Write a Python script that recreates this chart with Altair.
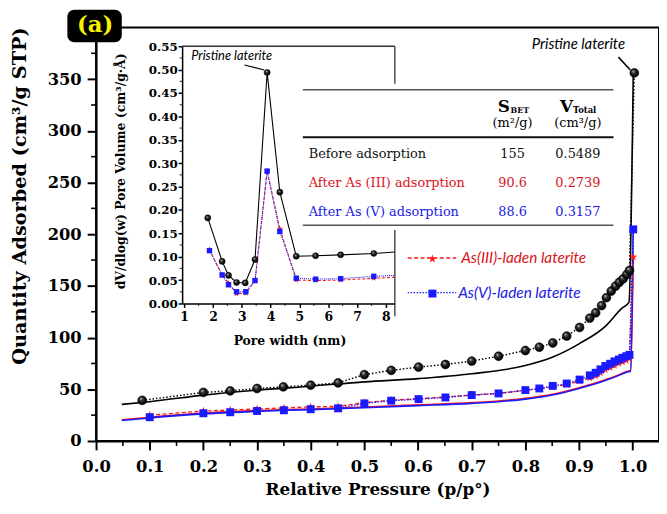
import altair as alt
import pandas as pd

# ---------------- main isotherm data (P/P0, quantity adsorbed) ----------------
prist_x = [0.086, 0.200, 0.250, 0.300, 0.349, 0.400, 0.451, 0.500, 0.550, 0.601, 0.651, 0.700,
           0.750, 0.800, 0.826, 0.851, 0.877, 0.901, 0.920, 0.931, 0.942, 0.951, 0.960, 0.968,
           0.975, 0.982, 0.989, 0.994, 1.003]
prist_y = [39.3, 47.0, 48.5, 50.8, 52.4, 54.0, 56.2, 64.2, 68.3, 71.5, 74.0, 77.3,
           82.0, 87.5, 90.7, 94.8, 101.5, 109.8, 118.8, 124.0, 131.0, 138.6, 145.0, 149.7,
           153.5, 156.8, 161.0, 165.0, 356.0]
laden_x = [0.100, 0.200, 0.250, 0.300, 0.350, 0.400, 0.451, 0.500, 0.550, 0.601, 0.651, 0.700,
           0.750, 0.800, 0.826, 0.851, 0.877, 0.901, 0.920, 0.931, 0.940, 0.949, 0.958, 0.966,
           0.974, 0.981, 0.988, 0.994, 1.001]
as5_y = [23.0, 26.8, 27.8, 29.0, 29.7, 30.7, 31.6, 36.4, 39.0, 40.5, 42.1, 44.4,
         46.0, 49.2, 50.8, 53.3, 55.6, 59.4, 63.5, 66.0, 69.3, 72.5, 74.7, 77.0,
         78.8, 80.5, 82.0, 83.3, 204.7]
as3_y = [25.0, 29.0, 30.0, 31.0, 32.0, 33.0, 33.5, 37.0, 39.5, 41.0, 42.5, 44.5,
         46.0, 49.0, 50.5, 52.5, 54.5, 58.0, 61.0, 63.0, 66.0, 69.0, 71.0, 73.0,
         75.0, 76.5, 78.0, 80.0, 178.0]

# solid branches
pfit_x = [0.048, 0.100, 0.200, 0.300, 0.400, 0.500, 0.600, 0.700, 0.800, 0.850, 0.900, 0.950, 0.980, 0.993, 1.001]
pfit_y = [35.4, 38.0, 44.4, 49.2, 53.0, 57.2, 60.3, 65.0, 73.0, 81.0, 94.0, 111.4, 128.5, 134.0, 356.0]
lfit_x = [0.048, 0.100, 0.200, 0.300, 0.400, 0.500, 0.600, 0.700, 0.800, 0.850, 0.900, 0.950, 0.970, 0.990, 0.996, 1.001]
as5fit_y = [19.8, 22.3, 26.2, 28.7, 30.3, 32.2, 34.2, 36.4, 40.5, 44.4, 50.8, 58.7, 62.5, 66.7, 67.5, 204.7]
as3fit_y = [20.5, 23.0, 27.0, 29.4, 31.0, 32.9, 34.9, 37.1, 41.2, 45.1, 51.5, 59.4, 63.2, 67.4, 68.2, 178.0]

main_xticks = [round(i * 0.1, 1) for i in range(11)]
main_xminor = [round(0.05 + i * 0.1, 2) for i in range(10)]
main_yticks = [i * 50 for i in range(8)]
main_yminor = [25 + i * 50 for i in range(8)]

# ---------------- inset: pore size distribution ----------------
pw_prist_x = [1.82, 2.32, 2.54, 2.82, 3.12, 3.46, 3.88, 4.32, 4.89, 5.56, 6.43, 7.58]
pw_prist_y = [0.183, 0.090, 0.060, 0.045, 0.044, 0.094, 0.494, 0.238, 0.101, 0.102, 0.104, 0.107]
pw_laden_x = [1.88, 2.32, 2.54, 2.82, 3.14, 3.46, 3.88, 4.32, 4.89, 5.56, 6.43, 7.58]
pw_as3_y = [0.115, 0.060, 0.044, 0.021, 0.022, 0.048, 0.283, 0.160, 0.050, 0.049, 0.050, 0.054]
pw_as5_y = [0.113, 0.061, 0.040, 0.025, 0.025, 0.049, 0.283, 0.154, 0.054, 0.052, 0.053, 0.058]
pw_edge_x = 8.31
pw_edge = {"prist": 0.110, "as3": 0.056, "as5": 0.060}

in_xticks = [1, 2, 3, 4, 5, 6, 7, 8]
in_xminor = [1.5, 2.5, 3.5, 4.5, 5.5, 6.5, 7.5]
in_yticks = [round(i * 0.05, 2) for i in range(12)]
in_yminor = [round(0.025 + i * 0.05, 3) for i in range(11)]

# ---------------- table ----------------
tbl_rows = ["Before adsorption", "After As (III) adsorption", "After As (V) adsorption"]
tbl_sbet = ["155", "90.6", "88.6"]
tbl_vtot = ["0.5489", "0.2739", "0.3157"]

RED = "#ff1a1a"
BLUE = "#1a1aff"
RED_T = "#d8141c"
BLUE_T = "#2020e0"
row_colors = ["#111111", RED_T, BLUE_T]

SERIF = "DejaVu Serif"
HAND = "Lato"
STAR = ("M0,-1L0.235,-0.324L0.951,-0.309L0.38,0.124L0.588,0.809L0,0.4L-0.588,0.809"
        "L-0.38,0.124L-0.951,-0.309L-0.235,-0.324Z")

W, H = 569, 418
OX, OY = 97, 25
ONE = pd.DataFrame({"k": [0]})

sphere = alt.RadialGradient(
    gradient="radial",
    stops=[alt.GradientStop(color="#d8d8d8", offset=0),
           alt.GradientStop(color="#3a3a3a", offset=0.3),
           alt.GradientStop(color="#080808", offset=0.7),
           alt.GradientStop(color="#000000", offset=1)],
    x1=0.35, y1=0.3, r1=0.0, x2=0.5, y2=0.5, r2=0.6)


def df(x, y):
    return pd.DataFrame({"x": x, "y": y})


def label(text, px, py, size, color="black", weight="normal", align="left",
          font=SERIF, style="normal", baseline="alphabetic"):
    return alt.Chart(ONE).mark_text(
        text=text, font=font, fontSize=size, fontWeight=weight, fontStyle=style,
        color=color, align=align, baseline=baseline
    ).encode(x=alt.value(px - OX), y=alt.value(py - OY))


def seg(px1, py1, px2, py2, color, width, dash=None):
    kw = {"strokeDash": dash} if dash else {}
    return alt.Chart(ONE).mark_rule(color=color, strokeWidth=width, **kw).encode(
        x=alt.value(px1 - OX), y=alt.value(py1 - OY),
        x2=alt.value(px2 - OX), y2=alt.value(py2 - OY))


def dot(px, py, shape, size, color):
    return alt.Chart(ONE).mark_point(shape=shape, size=size, filled=True, color=color,
                                     opacity=1).encode(
        x=alt.value(px - OX), y=alt.value(py - OY))


# ---------------- main scales / axes ----------------
xs = alt.Scale(domain=[0, 1.049], nice=False, zero=False)
ys = alt.Scale(domain=[0, 400], nice=False, zero=False)
ax_x = alt.Axis(values=main_xticks, format=".1f", title="Relative Pressure (p/p°)",
                tickSize=9, tickWidth=2, domainWidth=2, labelFontSize=16.5,
                labelBaseline="middle", labelPadding=17, labelFlush=False,
                titleFontSize=17, titleX=284.5, titleY=54, titleBaseline="alphabetic",
                grid=False)
ax_y = alt.Axis(values=main_yticks, title="Quantity Adsorbed (cm³/g STP)",
                tickSize=9, tickWidth=2, domainWidth=2, labelFontSize=16.5,
                labelPadding=6, titleFontSize=19.5, titleX=-77, titleY=170,
                titleAngle=270, titleBaseline="middle", titleAlign="center", grid=False)


def MX(f="x"):
    return alt.X(f + ":Q", scale=xs, axis=ax_x)


def MY(f="y"):
    return alt.Y(f + ":Q", scale=ys, axis=ax_y)


main_layers = [
    alt.Chart(df(pfit_x, pfit_y)).mark_line(color="black", strokeWidth=1.6, interpolate="monotone").encode(x=MX(), y=MY()),
    alt.Chart(df(lfit_x, as3fit_y)).mark_line(color=RED, strokeWidth=1.6, interpolate="monotone").encode(x=MX(), y=MY()),
    alt.Chart(df(lfit_x, as5fit_y)).mark_line(color=BLUE, strokeWidth=1.6, interpolate="monotone").encode(x=MX(), y=MY()),
    alt.Chart(df(laden_x, as3_y)).mark_line(color=RED, strokeWidth=1.4, strokeDash=[4, 2.5]).encode(x=MX(), y=MY()),
    alt.Chart(df(laden_x, as5_y)).mark_line(color=BLUE, strokeWidth=1.4, strokeDash=[1.5, 1.5]).encode(x=MX(), y=MY()),
    alt.Chart(df(prist_x, prist_y)).mark_line(color="black", strokeWidth=1.5, strokeDash=[1.5, 2]).encode(x=MX(), y=MY()),
    alt.Chart(df(laden_x, as3_y)).mark_point(shape=STAR, size=70, filled=True, color=RED, opacity=1).encode(x=MX(), y=MY()),
    alt.Chart(df(laden_x, as5_y)).mark_point(shape="square", size=64, filled=True, color=BLUE, opacity=1).encode(x=MX(), y=MY()),
    alt.Chart(df(prist_x, prist_y)).mark_point(shape="circle", size=80, filled=True, fill=sphere,
                                               stroke="black", strokeWidth=0.6, opacity=1).encode(x=MX(), y=MY()),
    # minor ticks
    alt.Chart(pd.DataFrame({"x": main_xminor})).mark_rule(color="black", strokeWidth=1.6).encode(
        x=MX(), y=alt.value(H), y2=alt.value(H + 5)),
    alt.Chart(pd.DataFrame({"y": main_yminor})).mark_rule(color="black", strokeWidth=1.6).encode(
        y=MY(), x=alt.value(0), x2=alt.value(-5)),
]

# annotations, legend, table, badge (layout in page pixels)
deco = [
    label("Pristine laterite", 584.5, 47, 15, style="italic", font=HAND, align="center"),
    seg(625, 55, 637, 68, "black", 1.5),
    seg(412, 258, 461, 258, RED, 1.4, [4, 2.5]),
    dot(437, 259, STAR, 80, RED),
    label("As(III)-laden laterite", 466, 263.5, 15.5, color=RED_T, style="italic", font=HAND),
    seg(412, 293, 461, 293, BLUE, 1.4, [1.5, 1.5]),
    dot(437, 294, "square", 64, BLUE),
    label("As(V)-laden laterite", 463, 298.5, 15.5, color=BLUE_T, style="italic", font=HAND),
    seg(306, 88, 620, 88, "#555555", 1.5),
    seg(306, 136, 620, 136, "#111111", 2.2),
    seg(306, 225, 620, 225, "#555555", 1.5),
    label("S", 503, 110, 17, weight="bold"),
    label("BET", 516, 111, 8, weight="bold"),
    label("(m²/g)", 518, 126, 13, align="center"),
    label("V", 566, 110, 17, weight="bold"),
    label("Total", 579, 111, 8.5, weight="bold"),
    label("(cm³/g)", 584, 126, 13, align="center"),
    alt.Chart(ONE).mark_rect(color="black", cornerRadius=7).encode(
        x=alt.value(68 - OX), x2=alt.value(123 - OX), y=alt.value(7 - OY), y2=alt.value(40 - OY)),
    label("(a)", 96, 23, 23, color="#f5f500", weight="bold", align="center", baseline="middle"),
]
row_base = [157, 186.5, 215.5]
for i, name in enumerate(tbl_rows):
    deco.append(label(name, 312, row_base[i], 13, color=row_colors[i]))
    deco.append(label(tbl_sbet[i], 518, row_base[i], 13, color=row_colors[i], align="center"))
    deco.append(label(tbl_vtot[i], 584, row_base[i], 13, color=row_colors[i], align="center"))

main = alt.layer(*(main_layers + deco))

# ---------------- inset scales / axes ----------------
IX0, IX1 = 0.931, 8.31
xsi = alt.Scale(domain=[IX0, IX1], range=[87, 302], nice=False, zero=False)
ysi = alt.Scale(domain=[0, 0.55], range=[279, 19], nice=False, zero=False)
ax_ix = alt.Axis(orient="bottom", offset=-139, values=in_xticks, format="d", tickSize=4,
                 tickWidth=1.5, domainWidth=1.5, labelFontSize=12.5, labelBaseline="middle",
                 labelPadding=9, labelFlush=False, title="Pore width (nm)", titleFontSize=12.5,
                 titleX=195.5, titleY=41, titleBaseline="alphabetic", grid=False)
ax_iy = alt.Axis(orient="left", offset=-87, values=in_yticks, format=".2f", tickSize=4,
                 tickWidth=1.5, domainWidth=1.5, labelFontSize=12, labelPadding=1,
                 labelFlush=False, title="dV/dlog(w) Pore Volume (cm³/g·Å)", titleFontSize=12.5,
                 titleX=-62, titleY=145, titleAngle=270, titleBaseline="middle",
                 titleAlign="center", grid=False)


def IX(f="x"):
    return alt.X(f + ":Q", scale=xsi, axis=ax_ix)


def IY(f="y"):
    return alt.Y(f + ":Q", scale=ysi, axis=ax_iy)


inset_layers = [
    alt.Chart(df(pw_prist_x + [pw_edge_x], pw_prist_y + [pw_edge["prist"]])).mark_line(
        color="black", strokeWidth=1.1).encode(x=IX(), y=IY()),
    alt.Chart(df(pw_laden_x + [pw_edge_x], pw_as3_y + [pw_edge["as3"]])).mark_line(
        color=RED, strokeWidth=1.1, strokeDash=[3, 2]).encode(x=IX(), y=IY()),
    alt.Chart(df(pw_laden_x + [pw_edge_x], pw_as5_y + [pw_edge["as5"]])).mark_line(
        color=BLUE, strokeWidth=1.1, strokeDash=[1, 1]).encode(x=IX(), y=IY()),
    alt.Chart(df(pw_laden_x, pw_as3_y)).mark_point(shape=STAR, size=40, filled=True, color=RED, opacity=1).encode(x=IX(), y=IY()),
    alt.Chart(df(pw_laden_x, pw_as5_y)).mark_point(shape="square", size=30, filled=True, color=BLUE, opacity=1).encode(x=IX(), y=IY()),
    alt.Chart(df(pw_prist_x, pw_prist_y)).mark_point(shape="circle", size=38, filled=True, fill=sphere,
                                                     stroke="black", strokeWidth=0.5, opacity=1).encode(x=IX(), y=IY()),
    # minor ticks
    alt.Chart(pd.DataFrame({"y": in_yminor})).mark_tick(orient="horizontal", size=2.5, thickness=1.2,
                                                       color="black", xOffset=-1.25).encode(
        x=alt.XDatum(IX0, scale=xsi, axis=ax_ix), y=IY()),
    alt.Chart(pd.DataFrame({"x": in_xminor})).mark_tick(orient="vertical", size=2.5, thickness=1.2,
                                                       color="black", yOffset=1.25).encode(
        x=IX(), y=alt.YDatum(0, scale=ysi, axis=ax_iy)),
    # inset frame pieces
    alt.Chart(ONE).mark_rule(color="#333333", strokeWidth=1.3).encode(
        x=alt.XDatum(IX0, scale=xsi, axis=ax_ix), x2=alt.X2Datum(IX1),
        y=alt.YDatum(0.55, scale=ysi, axis=ax_iy)),
    alt.Chart(ONE).mark_rule(color="#333333", strokeWidth=1.3).encode(
        x=alt.XDatum(IX1, scale=xsi, axis=ax_ix),
        y=alt.YDatum(0.55, scale=ysi, axis=ax_iy), y2=alt.Y2Datum(0.47)),
    alt.Chart(ONE).mark_rule(color="#333333", strokeWidth=1.3).encode(
        x=alt.XDatum(IX1, scale=xsi, axis=ax_ix),
        y=alt.YDatum(0.157, scale=ysi, axis=ax_iy), y2=alt.Y2Datum(-0.0275)),
    # annotation
    label("Pristine laterite", 234, 58, 13, style="italic", font=HAND, align="center"),
    seg(247, 63, 267, 68, "black", 1.2),
]
inset = alt.layer(*inset_layers)

chart = alt.layer(main, inset).resolve_scale(x="independent", y="independent").properties(
    width=W, height=H,
    padding={"left": 89, "top": 17, "right": 0, "bottom": 58},
    autosize=alt.AutoSizeParams(type="none"),
).configure_axis(
    labelFont=SERIF, titleFont=SERIF, labelFontWeight="bold", titleFontWeight="bold",
    labelColor="black", titleColor="black", domainColor="black", tickColor="black", grid=False,
).configure_view(stroke="black", strokeWidth=2)

chart.save("out.html", embed_options={"renderer": "svg", "actions": False})
